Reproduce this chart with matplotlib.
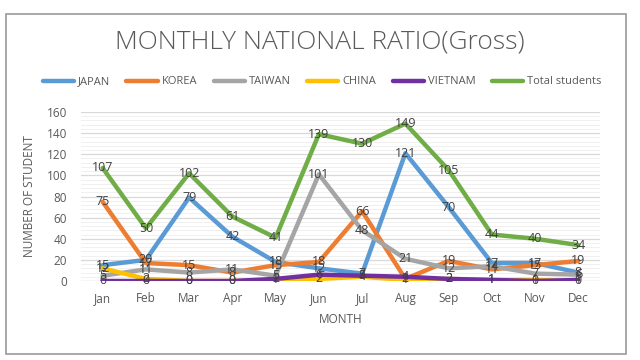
import matplotlib
matplotlib.use("Agg")
import matplotlib.pyplot as plt
from matplotlib.patches import Rectangle
import numpy as np

months = ["Jan", "Feb", "Mar", "Apr", "May", "Jun", "Jul", "Aug", "Sep", "Oct", "Nov", "Dec"]
japan = [15, 20, 79, 42, 18, 12, 7, 121, 70, 17, 17, 8]
korea = [75, 17, 15, 8, 15, 18, 66, 2, 19, 11, 15, 19]
taiwan = [5, 11, 8, 11, 5, 101, 48, 21, 12, 14, 7, 6]
china = [12, 2, 0, 0, 1, 2, 4, 1, 2, 1, 1, 0]
vietnam = [0, 0, 0, 0, 2, 6, 5, 4, 2, 1, 0, 1]
total = [107, 50, 102, 61, 41, 139, 130, 149, 105, 44, 40, 34]

series = [
    ("JAPAN", japan, "#5B9BD5"),
    ("KOREA", korea, "#ED7D31"),
    ("TAIWAN", taiwan, "#A5A5A5"),
    ("CHINA", china, "#FFC000"),
    ("VIETNAM", vietnam, "#7030A0"),
    ("Total students", total, "#70AD47"),
]

plt.rcParams['font.family'] = ['Open Sans', 'DejaVu Sans']
fig = plt.figure(figsize=(6.4, 3.6), dpi=100)
fig.patch.set_facecolor("white")
fig.add_artist(Rectangle((6/640, 6/360), 620/640, 340/360, transform=fig.transFigure,
                         fill=False, edgecolor="#9a9a9a", linewidth=1.2))

ax = fig.add_axes([81/640, 1-281/360, 519/640, 169/360])
x = np.arange(len(months))
handles = []
for name, vals, col in series:
    h, = ax.plot(x, vals, color=col, linewidth=3.2, solid_capstyle="round", label=name, zorder=3)
    handles.append(h)
for name, vals, col in series:
    for xi, v in zip(x, vals):
        ax.text(xi, v, str(v), ha="center", va="center", fontsize=9, color="#404040", zorder=5)

ax.set_xlim(-0.5, len(months) - 0.5)
ax.set_ylim(0, 160)
ax.set_yticks(range(0, 161, 20))
ax.set_yticks(range(0, 161, 4), minor=True)
ax.grid(axis="y", which="major", color="#d9d9d9", linewidth=0.9, zorder=0)
ax.grid(axis="y", which="minor", color="#f0f0f0", linewidth=0.7, zorder=0)
ax.set_xticks(x)
ax.set_xticklabels(months)
ax.tick_params(axis="both", which="both", length=0, labelsize=8.5, labelcolor="#595959")
ax.tick_params(axis="x", pad=8)
ax.tick_params(axis="y", pad=10)
for s in ax.spines.values():
    s.set_visible(False)
ax.axhline(0, color="#d9d9d9", linewidth=0.9, zorder=1)
ax.set_xlabel("MONTH", fontsize=8.5, color="#595959", labelpad=6)
ax.set_ylabel("NUMBER OF STUDENT", fontsize=8.5, color="#595959", labelpad=8)

fig.text(320/640, 1-42/360, "MONTHLY NATIONAL RATIO(Gross)", ha="center", va="center",
         fontsize=19, color="#595959", fontweight="light")
fig.legend(handles=handles, loc="center", bbox_to_anchor=(322/640, 1-82/360), ncol=6,
           frameon=False, fontsize=8, handlelength=2.8, handletextpad=0.35, columnspacing=1.5,
           labelcolor="#595959")

fig.savefig("out.png", dpi=100, facecolor="white")
